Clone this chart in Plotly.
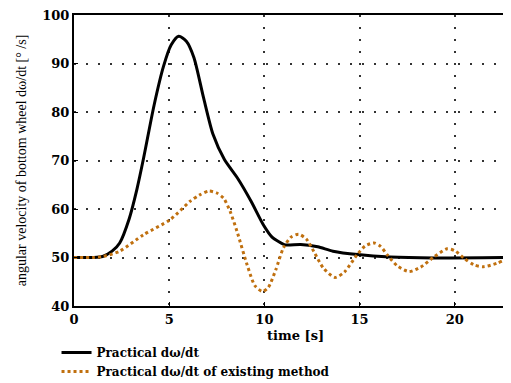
import plotly.graph_objects as go

# ---- data ----
t_practical = [0, 1.0, 1.5, 2.0, 2.4, 2.9, 3.3, 3.65, 4.2, 4.7, 5.1, 5.5, 5.9, 6.3, 6.8, 7.3,
               7.9, 8.6, 9.3, 9.95, 10.4, 10.7, 11.1, 11.9, 12.8, 13.6, 14.9, 16.6, 18.9, 23]
v_practical = [50, 50, 50.2, 51.3, 53, 58, 64, 70.4, 81.3, 89.4, 93.8, 95.6, 94.6, 91.2, 83.0, 75.4,
               70.2, 66.3, 61.6, 56.7, 54.2, 53.4, 52.6, 52.7, 52.2, 51.3, 50.6, 50.1, 49.9, 50]

t_existing = [0, 1, 1.5, 2.4, 3.65, 5.05, 6.1, 6.6, 7.07, 7.5, 7.86, 8.2, 8.56, 9.09, 9.5, 9.9,
              10.2, 10.6, 11.0, 11.4, 11.8, 12.2, 12.6, 13.1, 13.7, 14.2, 14.87, 15.3, 15.75,
              16.1, 16.46, 17.0, 17.6, 18.2, 18.9, 19.6, 20.0, 20.5, 21.0, 21.5, 22.2, 22.9]
v_existing = [50, 50, 50.2, 51.3, 54.7, 57.8, 61.6, 62.9, 63.7, 63.3, 62.2, 59.5, 55.4, 48.5, 44.2, 43.0,
              43.8, 47.5, 52.0, 54.2, 54.8, 53.8, 51.2, 47.8, 45.9, 47.0, 50.6, 52.4, 53.0,
              52.3, 50.5, 48.2, 47.1, 48.0, 50.1, 51.8, 51.4, 49.8, 48.5, 48.1, 48.8, 50]

x_ticks = [0, 5, 10, 15, 20]
y_ticks = [40, 50, 60, 70, 80, 90, 100]
x_title = "time [s]"

serif = "Liberation Serif"
wide = "DejaVu Serif"
grid_dash = "2px,10px"

fig = go.Figure()
fig.add_trace(go.Scatter(x=t_practical, y=v_practical, mode="lines",
                         line=dict(color="black", width=3, shape="spline", smoothing=0.7),
                         name="<b>Practical dω/dt</b>"))
fig.add_trace(go.Scatter(x=t_existing, y=v_existing, mode="lines",
                         line=dict(color="#c0700f", width=3, dash="dot", shape="spline", smoothing=0.7),
                         name="<b>Practical dω/dt of existing method</b>"))

fig.add_annotation(text=f"<b>{x_title}</b>", xref="paper", yref="paper", x=0.506, y=-0.1,
                   xanchor="center", yanchor="middle", showarrow=False,
                   font=dict(family=wide, size=13, color="black"))

fig.update_layout(
    width=503, height=375,
    margin=dict(l=66, r=0, t=7, b=77, autoexpand=False),
    paper_bgcolor="white", plot_bgcolor="white",
    font=dict(family=serif, color="black", size=12),
    showlegend=True,
    legend=dict(x=-0.04, y=0.12, xanchor="left", yanchor="top", yref="container",
                font=dict(family=wide, size=12, color="black"),
                tracegroupgap=0, bgcolor="rgba(0,0,0,0)"),
    xaxis=dict(range=[0, 22.95], tickvals=x_ticks, ticktext=[f"<b>{v}</b>" for v in x_ticks],
               showgrid=True, gridcolor="#333333", griddash=grid_dash, gridwidth=1.5,
               showline=True, linecolor="black", linewidth=2, mirror=True,
               ticks="inside", ticklen=4, tickcolor="black", zeroline=False,
               tickfont=dict(family=wide, size=13), ticklabeloverflow="allow", automargin=False),
    yaxis=dict(range=[40, 100], tickvals=y_ticks, ticktext=[f"<b>{v}</b>" for v in y_ticks],
               showgrid=True, gridcolor="#333333", griddash=grid_dash, gridwidth=1.5,
               showline=True, linecolor="black", linewidth=2, mirror=False,
               ticks="inside", ticklen=4, tickcolor="black", zeroline=False,
               tickfont=dict(family=wide, size=13), ticklabeloverflow="allow", automargin=False,
               title=dict(text="angular velocity of bottom wheel dω/dt [° /s]",
                          font=dict(family=serif, size=14), standoff=12)),
)

fig.write_html("out.html")
